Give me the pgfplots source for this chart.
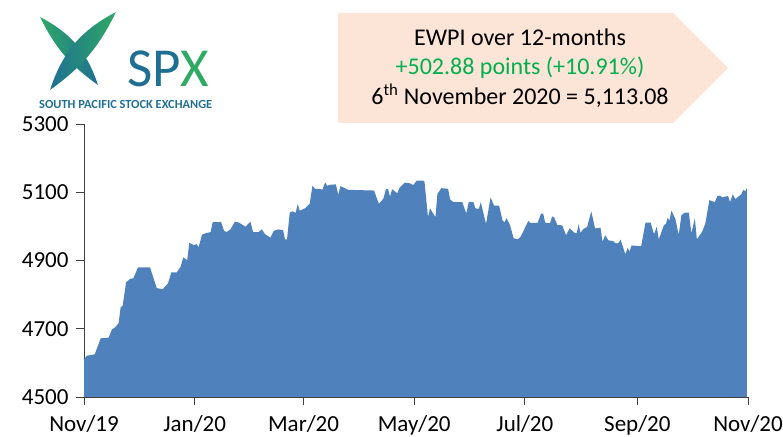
\documentclass[border=0pt]{standalone}
\usepackage{fontspec}
\setmainfont{Carlito}
\usepackage{pgfplots}
\usepackage{pgfplotstable}
\pgfplotsset{compat=1.18}
\definecolor{areablue}{HTML}{4F81BD}
\definecolor{calloutbg}{HTML}{FCE4D6}
\definecolor{upgreen}{HTML}{00B050}
\definecolor{spxteal}{HTML}{1F6F93}
\definecolor{spxgreen}{HTML}{2EAA64}
\definecolor{axisgray}{HTML}{404040}

\pgfplotstableread{
d v
0 4610.2
1.5 4621
5.9 4625
9.2 4672
13.6 4674
15.4 4698
16.9 4703
19.1 4716
20.2 4763
21.3 4767
23.2 4836
25.4 4846
27.2 4848
29.8 4880
36.4 4880
40.1 4819
43.4 4816
46.3 4833
48.1 4865
51.1 4865
53.3 4882
54.7 4909
56.9 4901
58.0 4952
60.6 4945
62.1 4948
63.2 4939
65.0 4975
66.9 4980
69.8 4983
70.9 5012
75.5 5013
77.3 4986
78.8 4984
80.7 4991
83.2 5014
85.4 5011
89.1 4999
91.7 5014
93.2 4983
96.1 4983
98.0 4991
99.8 4977
102.7 4967
104.6 4987
107.1 4991
109.7 4989
110.8 4962
111.9 4962
113.4 5040
114.8 5044
116.7 5040
117.8 5066
118.9 5046
121.8 5053
124.4 5066
125.9 5119
127.3 5110
130.3 5110
131.4 5107
132.9 5129
134.0 5119
135.8 5122
138.8 5123
140.2 5092
141.3 5118
145.7 5107
159.9 5105
162.5 5066
165.0 5081
166.5 5110
167.6 5109
168.7 5087
169.8 5109
172.7 5097
173.8 5112
176.8 5128
179.7 5126
181.5 5121
183.4 5134
187.0 5134
187.7 5130
189.6 5027
190.7 5053
193.7 5027
194.8 5095
197.0 5112
200.7 5110
201.8 5079
203.6 5071
208.5 5071
210.7 5038
212.1 5072
214.6 5072
215.7 5053
217.6 5051
218.7 5071
221.6 5007
224.1 5085
226.0 5061
228.8 5061
230.7 5017
231.8 5012
232.9 5024
234.8 5004
236.8 4965
239.2 4962
240.7 4970
244.9 5016
246.1 5010
250.0 5010
251.9 5037
253.1 5037
254.2 5011
256.9 5009
258.0 5029
259.1 5027
260.9 5004
263.6 5003
265.7 4974
267.7 4994
270.4 4981
271.6 4980
272.6 5006
273.7 4981
275.2 4992
277.4 4999
279.6 5044
281.7 4994
284.7 4996
285.8 4955
287.3 4974
289.0 4959
291.6 4957
292.9 4951
294.4 4950
295.8 4961
298.4 4918
299.6 4937
300.7 4926
301.8 4944
307.1 4942
309.5 5011
312.3 5011
314.2 4977
315.7 4999
316.8 4962
319.7 5004
320.8 5007
321.6 5025
322.7 5017
323.8 5046
326.0 5021
327.8 4975
329.3 5033
331.1 5040
333.4 5040
334.8 4980
336.7 5024
337.8 4962
340.7 4984
342.5 5009
344.7 5077
347.7 5071
349.1 5089
350.6 5090
351.7 5085
355.0 5089
356.1 5071
357.6 5094
359.0 5080
362.3 5094
363.4 5107
364.6 5103
365.4 5113.08
}\ewpi

\begin{document}
\begin{tikzpicture}[x=1bp,y=1bp]
\path[use as bounding box] (0,0) rectangle (783,437);

% logo
\shade[left color=spxgreen, right color=spxteal] (40,420) to[bend left=22] (98,352) to[bend left=14] (40,420);
\shade[left color=spxteal, right color=spxgreen] (50,347) to[bend left=22] (116,425) to[bend left=14] (50,347);
\node[anchor=base west, inner sep=0pt, font=\fontsize{55bp}{55bp}\selectfont] at (127,350)
  {\textcolor{spxteal}{SP}\textcolor{spxgreen}{X}};
\node[anchor=base west, inner sep=0pt, text=spxteal, font=\bfseries\fontsize{12.4bp}{12.4bp}\selectfont] at (39,328)
  {SOUTH PACIFIC STOCK EXCHANGE};

% callout
\fill[calloutbg] (338,424) -- (673,424) -- (728,369) -- (673,314) -- (338,314) -- cycle;
\node[anchor=base, inner sep=0pt, font=\fontsize{24bp}{28bp}\selectfont] at (520,391) {EWPI over 12-months};
\node[anchor=base, inner sep=0pt, text=upgreen, font=\fontsize{24bp}{28bp}\selectfont] at (520,362) {+502.88 points (+10.91\%)};
\node[anchor=base, inner sep=0pt, font=\fontsize{24bp}{28bp}\selectfont] at (520,332) {6\textsuperscript{th} November 2020 = 5,113.08};

\begin{axis}[
  at={(84bp,40bp)}, anchor=south west,
  scale only axis, width=664bp, height=273bp,
  xmin=0, xmax=366, ymin=4500, ymax=5300,
  axis x line*=bottom, axis y line*=left,
  axis line style={axisgray, line width=0.9bp},
  tick style={axisgray, line width=0.9bp},
  tick align=outside, major tick length=8bp,
  xtick={0,61,121,182,243,305,366},
  xticklabels={Nov/19,Jan/20,Mar/20,May/20,Jul/20,Sep/20,Nov/20},
  ytick={4500,4700,4900,5100,5300},
  /pgf/number format/assume math mode=true,
  /pgf/number format/1000 sep={},
  tick label style={font=\fontsize{23bp}{27bp}\selectfont, black},
  xticklabel style={yshift=-7bp},
  yticklabel style={xshift=-4bp},
  minor tick num=0,
]
\addplot[fill=areablue, draw=none] table[x=d, y=v] {\ewpi} \closedcycle;
\end{axis}
\end{tikzpicture}
\end{document}
